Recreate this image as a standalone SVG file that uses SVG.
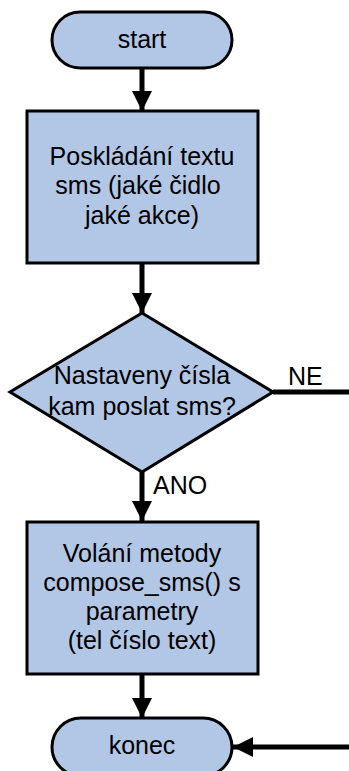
<svg xmlns="http://www.w3.org/2000/svg" width="349" height="771" viewBox="0 0 349 771">
  <style>
    .shape { fill: #b2c6e6; stroke: #000; stroke-width: 3; }
    .conn { fill: none; stroke: #000; stroke-width: 5; }
    text { font-family: "Liberation Sans", Arial, sans-serif; font-size: 25px; fill: #000; text-anchor: middle; }
    .lbl { text-anchor: start; }
  </style>
  <defs>
    <marker id="arrow" viewBox="0 0 20 20" refX="20" refY="10" markerWidth="20" markerHeight="20" markerUnits="userSpaceOnUse" orient="auto">
      <path d="M0,0 L20,10 L0,20 Z" fill="#000"/>
    </marker>
  </defs>

  <rect width="349" height="771" fill="#fff"/>

  <g id="connectors">
    <line class="conn" x1="142" y1="68" x2="142" y2="111" marker-end="url(#arrow)"/>
    <line class="conn" x1="142" y1="263" x2="142" y2="313" marker-end="url(#arrow)"/>
    <line class="conn" x1="142" y1="472" x2="142" y2="521" marker-end="url(#arrow)"/>
    <line class="conn" x1="142" y1="674" x2="142" y2="718" marker-end="url(#arrow)"/>
    <line class="conn" x1="273" y1="392" x2="349" y2="392"/>
    <line class="conn" x1="349" y1="747" x2="233" y2="747" marker-end="url(#arrow)"/>
    <text class="lbl" x="288" y="385">NE</text>
    <text class="lbl" x="153" y="494">ANO</text>
  </g>

  <g id="start">
    <rect class="shape" x="52" y="12" width="180" height="56" rx="28" ry="28"/>
    <text x="142" y="48">start</text>
  </g>

  <g id="compose-text">
    <rect class="shape" x="27" y="111" width="231" height="152"/>
    <text x="142" y="165">Poskládání textu</text>
    <text x="138" y="194">sms (jaké čidlo</text>
    <text x="142" y="224">jaké akce)</text>
  </g>

  <g id="numbers-set">
    <polygon class="shape" points="142,313 273,392 142,472 10,392"/>
    <text x="142" y="384">Nastaveny čísla</text>
    <text x="142" y="415">kam poslat sms?</text>
  </g>

  <g id="call-compose">
    <rect class="shape" x="27" y="522" width="231" height="152"/>
    <text x="142" y="562">Volání metody</text>
    <text x="142" y="591">compose_sms() s</text>
    <text x="142" y="620">parametry</text>
    <text x="142" y="649">(tel číslo text)</text>
  </g>

  <g id="end">
    <rect class="shape" x="52" y="718" width="180" height="58" rx="29" ry="29"/>
    <text x="142" y="754">konec</text>
  </g>
</svg>
